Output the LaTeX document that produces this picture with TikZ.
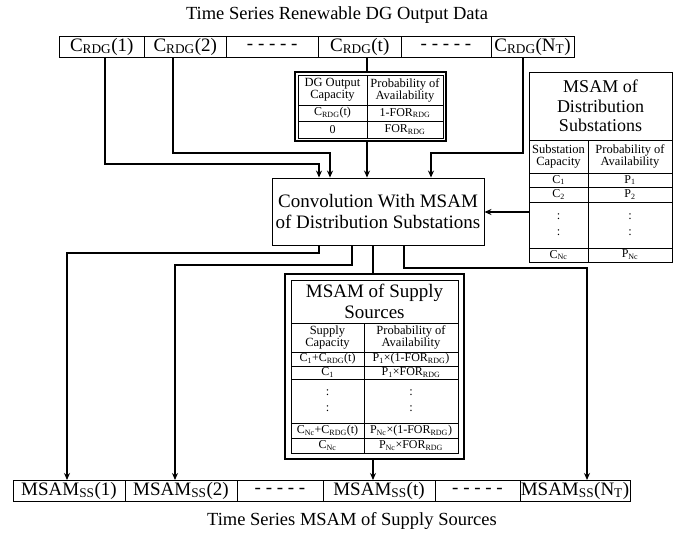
\documentclass[tikz,border=0pt]{standalone}
\usepackage{fontspec}
\setmainfont{Liberation Serif}
\usetikzlibrary{arrows.meta}
\newcommand{\sbs}[1]{\textsubscript{#1}}
\tikzset{
  cell/.style={draw, line width=0.9pt, inner sep=0pt, outer sep=0pt, minimum height=21pt, font=\fontsize{19}{21}\selectfont},
  bigtxt/.style={font=\fontsize{19}{21}\selectfont, align=center, inner sep=0pt},
  ttl/.style={font=\fontsize{18.5}{21}\selectfont, inner sep=0pt},
  hdr/.style={font=\fontsize{12.5}{12}\selectfont, align=center, inner sep=0pt},
  row/.style={font=\fontsize{12}{12}\selectfont, inner sep=0pt},
  conn/.style={line width=1.4pt},
  arr/.style={line width=1.4pt, -{Stealth[length=7pt,width=6pt]}},
  outer/.style={draw, line width=1.7pt, inner sep=0pt, outer sep=0pt},
  thin/.style={line width=0.8pt}
}
\begin{document}
\begin{tikzpicture}[x=1pt,y=-1pt]
\useasboundingbox (0,0) rectangle (678,533);
% titles
\node[ttl] (ttop) at (337,15) {Time Series Renewable DG Output Data};
\node[ttl] (tbot) at (352,521) {Time Series MSAM of Supply Sources};
% top row
\node[cell, minimum width=85.5pt] (t1) at (101.75,46.5) {C\sbs{RDG}(1)};
\node[cell, minimum width=81.5pt] (t2) at (185.25,46.5) {C\sbs{RDG}(2)};
\node[cell, minimum width=92.5pt] (t3) at (272.25,46.5) {- - - - -};
\node[cell, minimum width=82.5pt] (t4) at (359.75,46.5) {C\sbs{RDG}(t)};
\node[cell, minimum width=90pt] (t5) at (446,46.5) {- - - - -};
\node[cell, minimum width=83pt] (t6) at (532.5,46.5) {C\sbs{RDG}(N\sbs{T})};
% bottom row
\node[cell, minimum width=112pt] (b1) at (69,490.5) {MSAM\sbs{SS}(1)};
\node[cell, minimum width=112pt] (b2) at (181,490.5) {MSAM\sbs{SS}(2)};
\node[cell, minimum width=86pt] (b3) at (280,490.5) {- - - - -};
\node[cell, minimum width=112pt] (b4) at (379,490.5) {MSAM\sbs{SS}(t)};
\node[cell, minimum width=85pt] (b5) at (477.5,490.5) {- - - - -};
\node[cell, minimum width=110pt] (b6) at (575,490.5) {MSAM\sbs{SS}(N\sbs{T})};
% DG table
\node[outer, minimum width=151pt, minimum height=69pt] (dg) at (370.5,106.5) {};
\draw[thin] (298,75) rectangle (443,138);
\draw[thin] (367,75) -- (367,138);
\draw[thin] (298,105) -- (443,105) (298,121) -- (443,121);
\node[hdr] (dgh1) at (332.5,90) {DG Output\\Capacity};
\node[hdr] (dgh2) at (405,90) {Probability of\\Availability};
\node[row] (dgr1a) at (332.5,113) {C\sbs{RDG}(t)};
\node[row] (dgr1b) at (405,113) {1-FOR\sbs{RDG}};
\node[row] (dgr2a) at (332.5,129.5) {0};
\node[row] (dgr2b) at (405,129.5) {FOR\sbs{RDG}};
% convolution box
\node[draw, line width=0.9pt, minimum width=212pt, minimum height=67pt, bigtxt] (conv) at (378,211.5) {Convolution With MSAM\\of Distribution Substations};
% distribution table
\node[draw, line width=0.9pt, minimum width=143pt, minimum height=190pt, inner sep=0pt] (dist) at (600.5,167) {};
\draw[thin] (529,140) -- (672,140) (529,173) -- (672,173) (529,187) -- (672,187)
  (529,202) -- (672,202) (529,248) -- (672,248);
\draw[thin] (588,140) -- (588,262);
\node[font=\fontsize{18}{19.5}\selectfont, align=center, inner sep=0pt] (distt) at (600.5,106) {MSAM of\\Distribution\\Substations};
\node[hdr] (dh1) at (558.5,156.5) {Substation\\Capacity};
\node[hdr] (dh2) at (630,156.5) {Probability of\\Availability};
\node[row] (dr1a) at (558.5,180) {C\sbs{1}};
\node[row] (dr1b) at (630,180) {P\sbs{1}};
\node[row] (dr2a) at (558.5,194.5) {C\sbs{2}};
\node[row] (dr2b) at (630,194.5) {P\sbs{2}};
\node[hdr] (dr3a) at (558.5,225) {:\\[4pt]:};
\node[hdr] (dr3b) at (630,225) {:\\[4pt]:};
\node[row] (dr4a) at (558.5,255) {C\sbs{Nc}};
\node[row] (dr4b) at (630,255) {P\sbs{Nc}};
% supply table
\node[outer, minimum width=179pt, minimum height=185pt] (sup) at (374.5,366.5) {};
\draw[thin] (291,280) rectangle (458,453);
\draw[thin] (291,323) -- (458,323) (291,352) -- (458,352) (291,366) -- (458,366)
  (291,379) -- (458,379) (291,423) -- (458,423) (291,438) -- (458,438);
\draw[thin] (364,323) -- (364,453);
\node[bigtxt] (supt) at (374.5,301.5) {MSAM of Supply\\Sources};
\node[hdr] (sh1) at (327.5,337.5) {Supply\\Capacity};
\node[hdr] (sh2) at (411,337.5) {Probability of\\Availability};
\node[row] (sr1a) at (327.5,359) {C\sbs{1}+C\sbs{RDG}(t)};
\node[row] (sr1b) at (411,359) {P\sbs{1}×(1-FOR\sbs{RDG})};
\node[row] (sr2a) at (327.5,372.5) {C\sbs{1}};
\node[row] (sr2b) at (411,372.5) {P\sbs{1}×FOR\sbs{RDG}};
\node[hdr] (sr3a) at (327.5,401) {:\\[4pt]:};
\node[hdr] (sr3b) at (411,401) {:\\[4pt]:};
\node[row] (sr4a) at (327.5,430.5) {C\sbs{Nc}+C\sbs{RDG}(t)};
\node[row] (sr4b) at (411,430.5) {P\sbs{Nc}×(1-FOR\sbs{RDG})};
\node[row] (sr5a) at (327.5,445.5) {C\sbs{Nc}};
\node[row] (sr5b) at (411,445.5) {P\sbs{Nc}×FOR\sbs{RDG}};
% connectors top
\draw[arr] (t1.south -| 105,0) |- (319,164) -- (conv.north -| 319,0);
\draw[arr] (t2.south -| 173,0) |- (330,153) -- (conv.north -| 330,0);
\draw[conn] (t4.south -| 367,0) -- (dg.north -| 367,0);
\draw[arr] (dg.south -| 367,0) -- (conv.north -| 367,0);
\draw[arr] (t6.south -| 523,0) |- (431,153) -- (conv.north -| 431,0);
\draw[arr] (dist.west |- 0,212) -- (conv.east |- 0,212);
% connectors bottom
\draw[arr] (conv.south -| 319,0) |- (67,253) -- (b1.north -| 67,0);
\draw[arr] (conv.south -| 352,0) |- (175,265) -- (b2.north -| 175,0);
\draw[conn] (conv.south -| 373,0) -- (sup.north -| 373,0);
\draw[arr] (conv.south -| 404,0) |- (587,268) -- (b6.north -| 587,0);
\draw[arr] (sup.south -| 373,0) -- (b4.north -| 373,0);
\end{tikzpicture}
\end{document}
